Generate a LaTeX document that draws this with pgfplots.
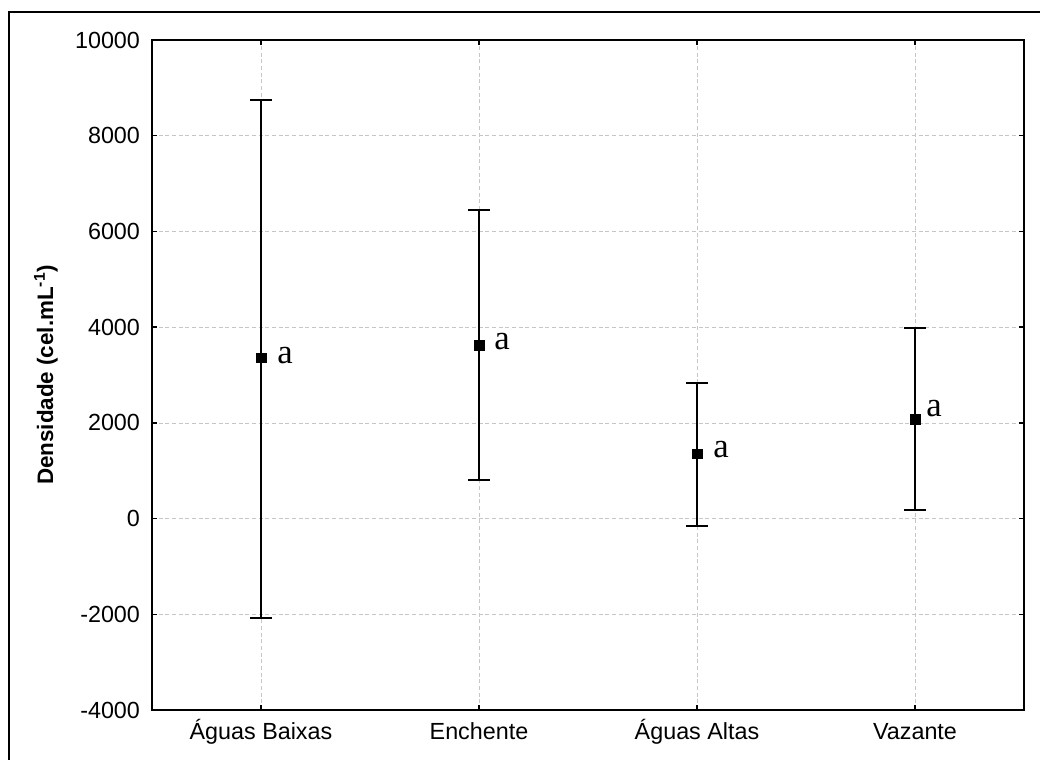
\documentclass[border=0pt]{standalone}
\usepackage{pgfplots}
\pgfplotsset{compat=1.18}
\usepackage{fontspec}
\setmainfont{Liberation Sans}
\newfontfamily\serifa{Liberation Serif}
\begin{document}
\begin{tikzpicture}
\useasboundingbox (0pt,0pt) rectangle (780pt,570pt);
\draw[line width=0.9pt] (6.75pt,-5pt) -- (6.75pt,561pt) -- (790pt,561pt);
\begin{axis}[at={(114pt,37.5pt)}, anchor=south west, scale only axis,
  width=654pt, height=502.5pt,
  xmin=-0.5, xmax=3.5, ymin=-4000, ymax=10000,
  xtick={0,1,2,3},
  xticklabels={Águas Baixas, Enchente, Águas Altas, Vazante},
  ytick={-4000,-2000,0,2000,4000,6000,8000,10000},
  scaled y ticks=false,
  /pgf/number format/assume math mode=true,
  /pgf/number format/1000 sep={},
  tick label style={font=\fontsize{17.5}{20}\selectfont},
  xticklabel style={anchor=base, yshift=-22.5pt},
  yticklabel style={xshift=-5.5pt},
  tick align=inside, major tick length=3.5pt,
  tick style={black, line width=1pt},
  axis line style={line width=1.5pt},
  grid=major,
  major grid style={gray!45, line width=0.5pt, dash pattern=on 3pt off 2pt},
  ylabel={Densidade (cel.mL\textsuperscript{-1})},
  y label style={at={(axis description cs:-0.1216,0.5)}, anchor=center, font=\bfseries\fontsize{16.8}{19}\selectfont},
]
\addplot[only marks, mark=square*, mark size=3.6pt, black,
  error bars/.cd, y dir=both, y explicit,
  error bar style={line width=1.5pt, black},
  error mark options={rotate=90, mark size=7.9pt, line width=1.5pt, black}]
  table[x=x, y=y, y error plus=ep, y error minus=em] {
x y ep em
0 3356 5390 5433
1 3627 2819 2820
2 1350 1477 1498
3 2081 1904 1895
};
\node[anchor=west, inner sep=0pt, xshift=12pt, yshift=1.5pt, font=\serifa\fontsize{26}{28}\selectfont] at (axis cs:0,3356) {a};
\node[anchor=west, inner sep=0pt, xshift=11.25pt, yshift=2.25pt, font=\serifa\fontsize{26}{28}\selectfont] at (axis cs:1,3627) {a};
\node[anchor=west, inner sep=0pt, xshift=12pt, yshift=3pt, font=\serifa\fontsize{26}{28}\selectfont] at (axis cs:2,1350) {a};
\node[anchor=west, inner sep=0pt, xshift=8.25pt, yshift=7.5pt, font=\serifa\fontsize{26}{28}\selectfont] at (axis cs:3,2081) {a};
\end{axis}
\end{tikzpicture}
\end{document}
